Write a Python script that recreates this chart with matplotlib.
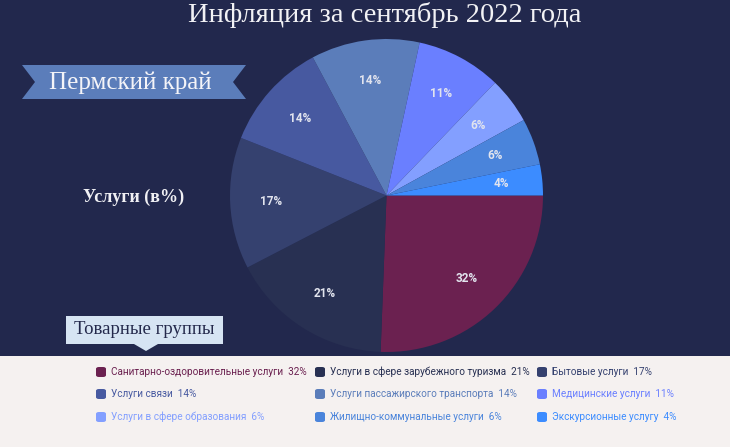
import matplotlib
matplotlib.use("Agg")
import matplotlib.pyplot as plt
from matplotlib.patches import Rectangle, Polygon, FancyBboxPatch

# data
categories = ["Санитарно-оздоровительные услуги", "Услуги в сфере зарубежного туризма",
              "Бытовые услуги", "Услуги связи", "Услуги пассажирского транспорта",
              "Медицинские услуги", "Услуги в сфере образования",
              "Жилищно-коммунальные услуги", "Экскурсионные услугу"]
values = [32, 21, 17, 14, 14, 11, 6, 6, 4]
colors = ["#6B2150", "#283052", "#35416F", "#4759A0", "#5B7DBA",
          "#6A7FFF", "#839FFF", "#4A84DB", "#3C8CFF"]

W, H = 730, 447
BG = "#22284D"
fig = plt.figure(figsize=(W / 100, H / 100), dpi=100, facecolor=BG)

def fx(px):
    return px / W

def fy(py):
    # py measured from top of picture
    return 1 - py / H

# light legend band at the bottom
fig.patches.append(Rectangle((0, 0), 1, fy(356), transform=fig.transFigure,
                             facecolor="#F5F1F0", edgecolor="none", zorder=0))

# pie
cx, cy, r = 386.5, 195.5, 156.5
ax = fig.add_axes([fx(cx - r), fy(cy + r), fx(2 * r), (2 * r) / H])
ax.set_facecolor("none")
wedges, texts, autotexts = ax.pie(
    values, colors=colors, startangle=0, counterclock=False, radius=1,
    autopct=lambda p: "", pctdistance=0.74,
    wedgeprops=dict(linewidth=0))
for t, v in zip(autotexts, values):
    t.set_text("%d%%" % v)
    t.set_color("#E2E4EE")
    t.set_fontsize(8.5)
    t.set_fontweight("bold")
    t.set_fontfamily("Roboto")
ax.set_xlim(-1, 1)
ax.set_ylim(-1, 1)
ax.set_aspect("equal")
ax.axis("off")

# title
fig.text(fx(385), fy(15), "Инфляция за сентябрь 2022 года", ha="center", va="center",
         fontsize=20.5, family="Liberation Serif", color="#F2F2F5")

# ribbon banner "Пермский край"
x0, x1, y0, y1 = 22, 246, 65, 99
notch = 13
ribbon = [(x0, y0), (x1, y0), (x1 - notch, (y0 + y1) / 2), (x1, y1),
          (x0, y1), (x0 + notch, (y0 + y1) / 2)]
fig.patches.append(Polygon([(fx(a), fy(b)) for a, b in ribbon], closed=True,
                           transform=fig.transFigure, facecolor="#5B7DBA",
                           edgecolor="none", zorder=1))
fig.text(fx(130), fy(83), "Пермский край", ha="center", va="center",
         fontsize=18, family="Liberation Serif", color="#F4F4F8", zorder=2)

# subtitle
fig.text(fx(83), fy(197), "Услуги (в%)", ha="left", va="center",
         fontsize=13, family="Liberation Serif", fontweight="bold", color="#F0F0F4")

# "Товарные группы" box with pointer
fig.patches.append(Rectangle((fx(66), fy(344)), fx(157), (344 - 316) / H,
                             transform=fig.transFigure, facecolor="#D6E4F3",
                             edgecolor="none", zorder=3))
fig.patches.append(Polygon([(fx(134), fy(344)), (fx(158), fy(344)), (fx(146), fy(351))],
                           closed=True, transform=fig.transFigure,
                           facecolor="#D6E4F3", edgecolor="none", zorder=3))
fig.text(fx(144), fy(330), "Товарные группы", ha="center", va="center",
         fontsize=13.5, family="Liberation Serif", color="#23284B", zorder=4)

# legend, three columns filled row by row
col_x = [96, 315, 537]
row_y = [372, 394, 417]
box = 10
for i, (name, v, c) in enumerate(zip(categories, values, colors)):
    mx = col_x[i % 3]
    my = row_y[i // 3]
    fig.patches.append(FancyBboxPatch((fx(mx), fy(my + box / 2)), fx(box), box / H,
                                      boxstyle="round,pad=0,rounding_size=0.004",
                                      transform=fig.transFigure, facecolor=c,
                                      edgecolor="none", zorder=3))
    fig.text(fx(mx + 15), fy(my), "%s  %d%%" % (name, v), ha="left", va="center",
             fontsize=7.2, family="Roboto", color=c)

fig.savefig("out.png", dpi=100, facecolor=BG)
